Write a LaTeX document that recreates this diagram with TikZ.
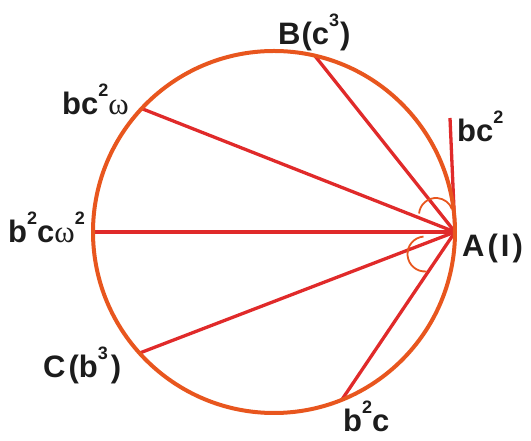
\documentclass[tikz,border=0pt]{standalone}
\usepackage{fontspec}
\setmainfont{Liberation Sans}
\newfontfamily\omegafont{Liberation Serif}
\definecolor{rimorange}{HTML}{E8561E}
\definecolor{chordred}{HTML}{E02A2A}
\definecolor{txtdark}{HTML}{1C1C1C}
\newcommand{\om}{{\omegafont\mdseries ω}}
\newcommand{\pw}[1]{\raisebox{18pt}{\fontsize{18}{18}\selectfont #1}}
\begin{document}
\begin{tikzpicture}[x=1pt,y=1pt,
  lbl/.style={font=\fontsize{31}{36}\selectfont\bfseries, text=txtdark, inner sep=0pt, anchor=base west},
  chord/.style={draw=chordred, line width=3.3pt},
  rim/.style={draw=rimorange, line width=4pt},
  angarc/.style={draw=rimorange, line width=1.8pt}
]
\useasboundingbox (0,0) rectangle (531,441);

% centre and points on the circle
\coordinate (O) at (274,209);
\path (O) ++(0:181) coordinate (A);
\path (O) ++(77:181) coordinate (B);
\path (O) ++(137:181) coordinate (P1);
\path (O) ++(180:181) coordinate (P2);
\path (O) ++(222:181) coordinate (C);
\path (O) ++(292:181) coordinate (P3);
\coordinate (T) at (450,323);

% chords from A
\draw[chord] (A) -- (B);
\draw[chord] (A) -- (P1);
\draw[chord] (A) -- (P2);
\draw[chord] (A) -- (C);
\draw[chord] (A) -- (P3);
\draw[chord] (A) -- (T);

\draw[rim] (O) circle[radius=181];

% angle marks
\draw[angarc] (436,226) ++(175:17) arc[start angle=175, end angle=20, radius=17];
\draw[angarc] (425,187) ++(95:17.5) arc[start angle=95, end angle=275, radius=17.5];

% labels
\node[lbl] (lB) at (278,396) {B\kern1pt(c\pw{3}\kern1pt)};
\node[lbl] (lP1) at (62,326) {bc\pw{2}\om};
\node[lbl] (lP2) at (8,198) {b\pw{2}c\om\pw{2}};
\node[lbl] (lA) at (462,184) {A\kern3pt(\kern3pt I\kern3pt)};
\node[lbl] (lT) at (457,299) {bc\pw{2}};
\node[lbl] (lC) at (43,63) {C\kern3pt(b\pw{3}\kern3pt)};
\node[lbl] (lP3) at (343,9) {b\pw{2}c};
\end{tikzpicture}
\end{document}
